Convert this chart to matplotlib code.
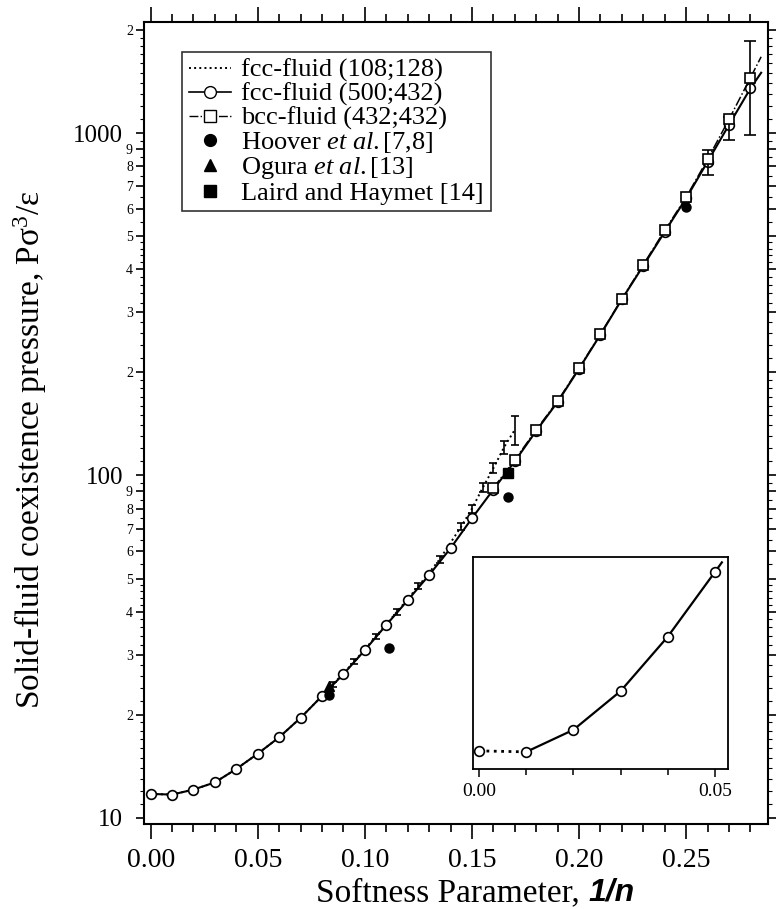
import matplotlib.pyplot as plt
import numpy as np

plt.rcParams['font.family'] = ['Liberation Serif', 'DejaVu Serif']
plt.rcParams['mathtext.fontset'] = 'custom'
plt.rcParams['mathtext.rm'] = 'Liberation Serif'
plt.rcParams['mathtext.it'] = 'Liberation Serif:italic'

# fcc-fluid (500;432), open circles, solid line
x500 = [0.00, 0.01, 0.02, 0.03, 0.04, 0.05, 0.06, 0.07, 0.08, 0.09,
        0.10, 0.11, 0.12, 0.13, 0.14, 0.15, 0.16, 0.17, 0.18, 0.19,
        0.20, 0.21, 0.22, 0.23, 0.24, 0.25, 0.26, 0.27, 0.28]
p500 = [11.75, 11.7, 12.1, 12.7, 13.9, 15.4, 17.2, 19.6, 22.7, 26.3,
        30.9, 36.6, 43.2, 51.2, 61.3, 75.0, 91, 110, 135, 164,
        205, 258, 327, 410, 515, 645, 825, 1057, 1350]
x500_tail = 0.285
p500_tail = 1500
# error bars on the last points
x500_err = [0.26, 0.27, 0.28]
p500_err = [825, 1057, 1350]
p500_lo = [70, 105, 360]
p500_hi = [70, 60, 510]

# bcc-fluid (432;432), open squares, dash-dot line
xbcc = [0.16, 0.17, 0.18, 0.19, 0.20, 0.21, 0.22, 0.23, 0.24, 0.25,
        0.26, 0.27, 0.28]
pbcc = [92, 111, 136, 165, 206, 259, 328, 413, 520, 650, 838, 1097, 1450]
xbcc_tail = 0.285
pbcc_tail = 1670

# fcc-fluid (108;128), dotted line with error bars
x108 = [0.00, 0.01, 0.02, 0.03, 0.04, 0.05, 0.06, 0.07, 0.08, 0.085,
        0.095, 0.105, 0.115, 0.125, 0.135, 0.145, 0.15, 0.155, 0.16,
        0.165, 0.17]
p108 = [11.75, 11.7, 12.1, 12.7, 13.9, 15.4, 17.2, 19.6, 22.7, 24.5,
        28.6, 33.8, 40.0, 47.5, 57.0, 71, 80, 92, 105, 121, 136]
e108 = [0, 0, 0, 0, 0, 0, 0, 0, 0.3, 0.4,
        0.5, 0.6, 0.8, 1.0, 1.3, 1.8, 2.2, 2.8, 3.5, 5.5, 13]

# literature points
x_hoover = [1 / 12, 1 / 9, 1 / 6, 1 / 4]
p_hoover = [22.8, 31.3, 86.6, 610]
x_ogura = [1 / 12]
p_ogura = [24.2]
x_laird = [1 / 6]
p_laird = [102]

# inset (enlarged low-softness region)
x_in = [0.00, 0.01, 0.02, 0.03, 0.04, 0.05]
p_in = [11.75, 11.73, 12.18, 12.97, 14.08, 15.4]
x_in_tail = 0.0515
p_in_tail = 15.6

fig = plt.figure(figsize=(7.78, 9.09), dpi=100)
ax = fig.add_axes([144 / 778, 1 - 824 / 909, 624 / 778, 802 / 909])

ax.plot(x108, p108, ':', color='black', lw=1.4, zorder=2)
ax.errorbar(x108, p108, yerr=e108, fmt='none', ecolor='black',
            elinewidth=1.2, capsize=3, capthick=1.2, zorder=2)

ax.plot(x500 + [x500_tail], p500 + [p500_tail], '-', color='black', lw=1.5,
        marker='o', markersize=7, mfc='white', mec='black', mew=1.2,
        markevery=list(range(len(x500))), zorder=3)
ax.errorbar(x500_err, p500_err, yerr=[p500_lo, p500_hi], fmt='none',
            ecolor='black', elinewidth=1.2, capsize=4, capthick=1.2, zorder=3)

ax.plot(xbcc + [xbcc_tail], pbcc + [pbcc_tail], '-.', color='black', lw=1.1,
        marker='s', markersize=7.5, mfc='white', mec='black', mew=1.2,
        markevery=list(range(len(xbcc))), zorder=4)

ax.plot(x_hoover, p_hoover, 'o', color='black', markersize=6.5, zorder=5)
ax.plot(x_ogura, p_ogura, '^', color='black', markersize=6.5, zorder=5)
ax.plot(x_laird, p_laird, 's', color='black', markersize=6.5, zorder=5)

ax.set_yscale('log')
ax.set_xlim(-0.0031, 0.2882)
ax.set_ylim(9.6, 2110)

# x ticks
ax.set_xticks(np.arange(0, 0.26, 0.05))
ax.set_xticklabels(['0.00', '0.05', '0.10', '0.15', '0.20', '0.25'])
ax.set_xticks(np.arange(0, 0.285, 0.01), minor=True)

# y ticks: decades and labelled 2..9
ymaj = []
ylab = []
for d in [10, 100, 1000]:
    for k in range(1, 10):
        v = d * k
        if v > 2100:
            break
        ymaj.append(v)
        ylab.append(str(v) if k == 1 else str(k))
ax.yaxis.set_major_locator(plt.FixedLocator(ymaj))
ax.yaxis.set_major_formatter(plt.FixedFormatter(ylab))
yfine = []
for d in [10, 100, 1000]:
    yfine += list(d * np.arange(1.1, 2.0, 0.1))
    yfine += list(d * np.arange(2.2, 5.0, 0.2))
    yfine += list(d * np.arange(5.5, 10.0, 0.5))
yfine = [v for v in yfine if v < 2100]
ax.yaxis.set_minor_locator(plt.FixedLocator(yfine))
ax.yaxis.set_minor_formatter(plt.NullFormatter())

ax.tick_params(which='both', direction='out', top=True, right=True,
               labeltop=False, labelright=False, width=1.2)
ax.tick_params(axis='x', which='major', length=11, labelsize=20, pad=6)
ax.tick_params(axis='x', which='minor', length=6)
ax.tick_params(axis='y', which='major', length=6, labelsize=10, pad=2)
ax.tick_params(axis='y', which='minor', length=3, width=0.8)

for tick, v in zip(ax.yaxis.get_major_ticks(), ymaj):
    if v in (10, 100, 1000):
        tick.label1.set_fontsize(18)
        tick.tick1line.set_markersize(9)
        tick.tick2line.set_markersize(9)
        tick.set_pad(9)

for sp in ax.spines.values():
    sp.set_linewidth(1.5)

ax.set_ylabel('Solid-fluid coexistence pressure, Pσ$^{3}$/ε', fontsize=24)
ax.yaxis.set_label_coords(-0.152, 0.466)
fig.text(0.756, 0.009, 'Softness Parameter, ', fontsize=24, ha='right',
         va='baseline')
fig.text(0.756, 0.009, '1/n', fontsize=23, ha='left', va='baseline',
         family='Liberation Sans', weight='bold', style='italic')

# legend
h108, = ax.plot([], [], ':', color='black', lw=1.4)
h500, = ax.plot([], [], '-', color='black', lw=1.2, marker='o', markersize=8.5,
                mfc='white', mec='black')
hbcc, = ax.plot([], [], '-.', color='black', lw=1.0, marker='s', markersize=8.5,
                mfc='white', mec='black')
hh, = ax.plot([], [], 'o', color='black', markersize=8.5)
ho, = ax.plot([], [], '^', color='black', markersize=8.5)
hl, = ax.plot([], [], 's', color='black', markersize=8.5)
leg = ax.legend([h108, h500, hbcc, hh, ho, hl],
                ['fcc-fluid (108;128)', 'fcc-fluid (500;432)',
                 'bcc-fluid (432;432)', 'Hoover $\\it{et\\ al.}$[7,8]',
                 'Ogura $\\it{et\\ al.}$[13]', 'Laird and Haymet [14]'],
                loc='upper left', bbox_to_anchor=(0.061, 0.9626),
                borderaxespad=0, fontsize=19, frameon=True, fancybox=False,
                edgecolor='black', handlelength=1.6, handletextpad=0.4,
                labelspacing=0.0, borderpad=0.25)
leg.get_frame().set_linewidth(1.2)

# inset
axi = fig.add_axes([473 / 778, 1 - 769 / 909, 255 / 778, 212 / 909])
axi.plot(x_in[:2], p_in[:2], ':', color='black', lw=2.0)
axi.plot(x_in[1:] + [x_in_tail], p_in[1:] + [p_in_tail], '-', color='black',
         lw=1.6, marker='o', markersize=7, mfc='white', mec='black', mew=1.2,
         markevery=list(range(len(x_in) - 1)))
axi.plot(x_in[:1], p_in[:1], 'o', markersize=7, mfc='white', mec='black',
         mew=1.2)
axi.set_xlim(-0.0013, 0.0528)
axi.set_ylim(11.38, 15.71)
axi.set_xticks([0.0, 0.05])
axi.set_xticklabels(['0.00', '0.05'])
axi.set_xticks(np.arange(0, 0.051, 0.01), minor=True)
axi.yaxis.set_major_locator(plt.NullLocator())
axi.yaxis.set_minor_locator(plt.NullLocator())
axi.tick_params(which='both', direction='out', width=1.1)
axi.tick_params(which='major', length=6, labelsize=14, pad=4)
axi.tick_params(which='minor', length=4)
for sp in axi.spines.values():
    sp.set_linewidth(1.3)

fig.savefig('out.png', dpi=100)
